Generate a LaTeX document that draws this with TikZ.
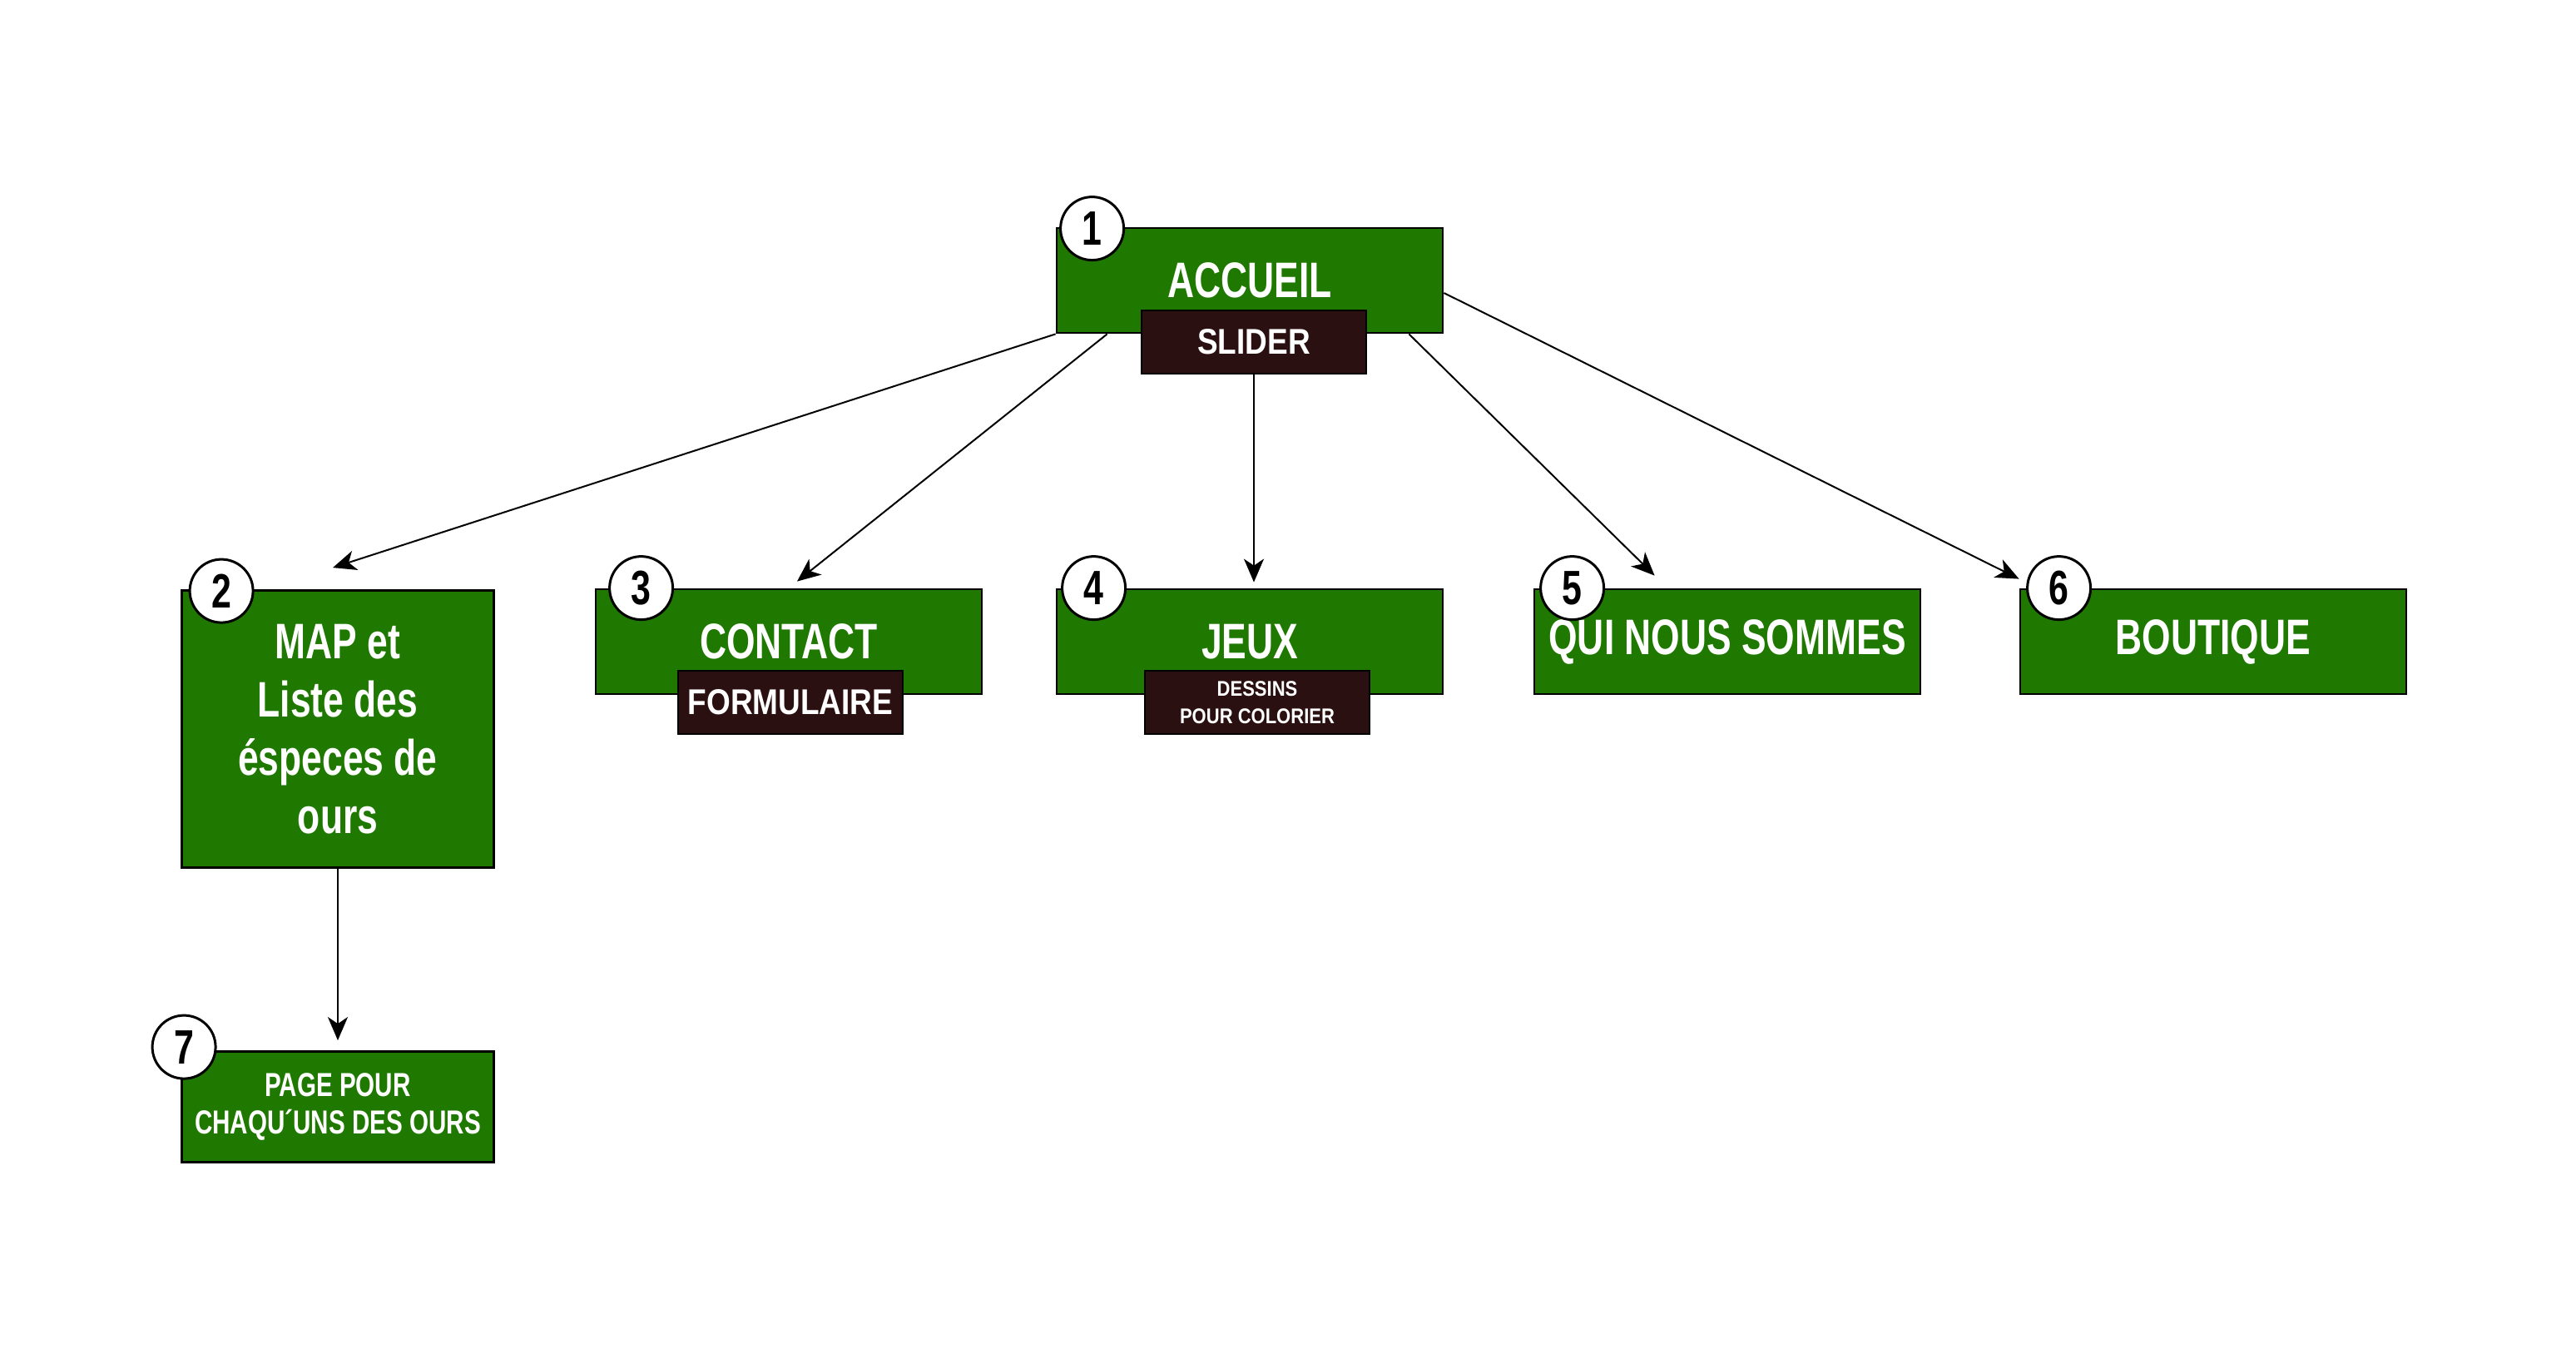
\documentclass[tikz,border=0pt]{standalone}
\usepackage{fontspec}
\setmainfont{Liberation Sans}[FakeStretch=0.74]
\newfontfamily\subfont{Liberation Sans}[FakeStretch=0.86]
\usetikzlibrary{arrows.meta}
\definecolor{pagegreen}{RGB}{31,121,0}
\definecolor{subbrown}{RGB}{42,16,16}
\begin{document}
\begin{tikzpicture}[x=1pt, y=-1pt, >={Stealth[length=14pt,width=12pt,inset=4pt]},
  page/.style={draw=black, line width=1.4pt, fill=pagegreen, text=white, align=center, inner sep=0pt,
    font=\bfseries\fontsize{30}{35}\selectfont, minimum width=232pt, minimum height=63pt},
  sub/.style={draw=black, line width=1.4pt, fill=subbrown, text=white, align=center, inner sep=0pt,
    font=\subfont\bfseries\fontsize{21.5}{25}\selectfont, minimum width=135pt, minimum height=38pt},
  num/.style={circle, draw=black, line width=1.5pt, fill=white, inner sep=0pt, minimum size=38pt,
    font=\bfseries\fontsize{29}{30}\selectfont},
  link/.style={->, line width=1pt}]
\useasboundingbox (0,0) rectangle (1548,816.5);
% pages
\node[page] (acc) at (751,168.5) {ACCUEIL};
\node[sub] (slider) at (753.5,205.5) {SLIDER};
\node[page, minimum width=187.5pt, minimum height=166.5pt] (map) at (203,438) {MAP et\\Liste des\\éspeces de\\ours};
\node[page] (contact) at (474,385.5) {CONTACT};
\node[sub] (form) at (475,422) {FORMULAIRE};
\node[page] (jeux) at (751,385.5) {JEUX};
\node[sub, font=\subfont\bfseries\fontsize{12.8}{16.3}\selectfont] (dessins) at (755.5,422) {DESSINS\\POUR COLORIER};
\node[page] (qui) at (1038,385.5) {QUI NOUS SOMMES};
\node[page] (bout) at (1330,385.5) {BOUTIQUE};
\node[page, minimum width=187.5pt, minimum height=66.5pt, font=\bfseries\fontsize{20}{22.5}\selectfont] (chaque) at (203,665) {PAGE POUR\\CHAQU´UNS DES OURS};
% numbers
\node[num] (n1) at ([xshift=22pt,yshift=-1pt]acc.north west) {1};
\node[num] (n2) at ([xshift=24.5pt,yshift=-1pt]map.north west) {2};
\node[num] (n3) at ([xshift=28pt]contact.north west) {3};
\node[num] (n4) at ([xshift=23pt]jeux.north west) {4};
\node[num] (n5) at ([xshift=23.5pt]qui.north west) {5};
\node[num] (n6) at ([xshift=24pt]bout.north west) {6};
\node[num] (n7) at ([xshift=2pt,yshift=2pt]chaque.north west) {7};
% arrows
\coordinate (mapin) at ([xshift=-3pt,yshift=13pt]map.north);
\coordinate (contactin) at ([xshift=5pt,yshift=4pt]contact.north);
\coordinate (jeuxin) at ([yshift=3.5pt]slider.south |- jeux.north);
\coordinate (quiin) at ([xshift=73pt,yshift=7.5pt]qui.north west);
\coordinate (boutin) at ([yshift=5.5pt]bout.north west);
\coordinate (chaquein) at ([yshift=6pt]map.south |- chaque.north);
\draw[link] (acc.south west) -- (mapin);
\draw[link] ([xshift=31pt]acc.south west) -- (contactin);
\draw[link] (slider.south) -- (jeuxin);
\draw[link] ([xshift=-21pt]acc.south east) -- (quiin);
\draw[link] ([yshift=-7.5pt]acc.east) -- (boutin);
\draw[link] (map.south) -- (chaquein);
\end{tikzpicture}
\end{document}
